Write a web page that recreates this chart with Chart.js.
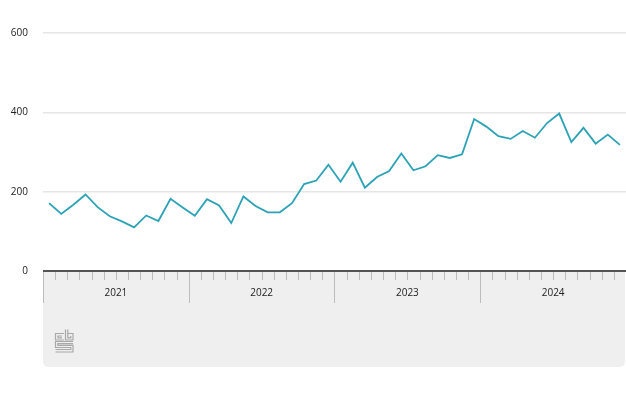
<!DOCTYPE html>
<html>
<head>
<meta charset="utf-8">
<script src="https://cdn.jsdelivr.net/npm/chart.js@4.4.1/dist/chart.umd.min.js"></script>
<style>
  html, body { margin: 0; padding: 0; background: #fff; }
  #wrap { width: 626px; height: 394px; }
</style>
</head>
<body>
<div id="wrap"><canvas id="lineChart" width="626" height="394"></canvas></div>
<script>
// Data
const years = ['2021', '2022', '2023', '2024'];
const months = ['jan', 'feb', 'mrt', 'apr', 'mei', 'jun', 'jul', 'aug', 'sep', 'okt', 'nov', 'dec'];
const values = [
    171, 144, 167, 193, 161, 138, 125, 110, 140, 126, 182, 160,
    139, 181, 165, 121, 188, 164, 148, 148, 171, 219, 228, 268,
    225, 273, 210, 237, 252, 296, 254, 264, 292, 285, 294, 383,
    364, 340, 333, 353, 336, 373, 397, 325, 361, 321, 344, 318
];
const yTicks = [0, 200, 400, 600];

const labels = years.flatMap(y => months.map(m => m + ' ' + y));
const FONT = '"Open Sans", "DejaVu Sans", sans-serif';

// grey year band under the chart, ticks, year labels and logo
const yearBand = {
    id: 'yearBand',
    afterDraw(chart) {
        const ctx = chart.ctx;
        const x = chart.scales.x;
        const area = chart.chartArea;
        const step = x.getPixelForValue(1) - x.getPixelForValue(0);
        const left = area.left, right = area.right - 1;
        const top = area.bottom, bottom = 367, r = 6;

        ctx.save();
        ctx.fillStyle = '#efefef';
        ctx.beginPath();
        ctx.moveTo(left, top);
        ctx.lineTo(right, top);
        ctx.lineTo(right, bottom - r);
        ctx.quadraticCurveTo(right, bottom, right - r, bottom);
        ctx.lineTo(left + r, bottom);
        ctx.quadraticCurveTo(left, bottom, left, bottom - r);
        ctx.closePath();
        ctx.fill();

        // month ticks
        ctx.strokeStyle = '#bcbcbc';
        ctx.lineWidth = 1;
        for (let i = 0; i < labels.length; i++) {
            const px = Math.round(x.getPixelForValue(i) - step / 2) + 0.5;
            const long = i % 12 === 0;
            ctx.beginPath();
            ctx.moveTo(px, top);
            ctx.lineTo(px, top + (long ? 32 : 9));
            ctx.stroke();
        }

        // axis line
        ctx.strokeStyle = '#555';
        ctx.lineWidth = 2;
        ctx.beginPath();
        ctx.moveTo(left, top);
        ctx.lineTo(area.right, top);
        ctx.stroke();

        // year labels
        ctx.fillStyle = '#222';
        ctx.font = '10px ' + FONT;
        ctx.textAlign = 'center';
        ctx.textBaseline = 'middle';
        years.forEach((y, k) => {
            const a = x.getPixelForValue(k * 12) - step / 2;
            const b = x.getPixelForValue(k * 12 + 11) + step / 2;
            ctx.fillText(y, (a + b) / 2, 293);
        });

        // cbs logo
        ctx.strokeStyle = '#a8a8a8';
        ctx.lineWidth = 1.2;
        ctx.beginPath();
        // c
        ctx.moveTo(64, 333.5); ctx.lineTo(55.5, 333.5); ctx.lineTo(55.5, 340); ctx.lineTo(64, 340);
        ctx.moveTo(62, 336); ctx.lineTo(58, 336); ctx.lineTo(58, 337.8); ctx.lineTo(62, 337.8);
        // b
        ctx.moveTo(65.5, 329.5); ctx.lineTo(65.5, 340); ctx.lineTo(73, 340); ctx.lineTo(73, 333.5); ctx.lineTo(68, 333.5);
        ctx.moveTo(67.8, 329.5); ctx.lineTo(67.8, 337.8); ctx.lineTo(70.8, 337.8); ctx.lineTo(70.8, 336);
        // s
        ctx.moveTo(73, 341.5); ctx.lineTo(55.5, 341.5); ctx.lineTo(55.5, 347.5); ctx.lineTo(70.8, 347.5); ctx.lineTo(70.8, 349.5); ctx.lineTo(55.5, 349.5);
        ctx.moveTo(73, 343.7); ctx.lineTo(57.8, 343.7); ctx.lineTo(57.8, 345.3); ctx.lineTo(73, 345.3); ctx.lineTo(73, 352); ctx.lineTo(55.5, 352);
        ctx.stroke();
        ctx.restore();
    }
};

const ctx1 = document.getElementById('lineChart').getContext('2d');
new Chart(ctx1, {
    type: 'line',
    data: {
        labels: labels,
        datasets: [{
            data: values,
            borderColor: '#2ba2b5',
            borderWidth: 1.8,
            pointRadius: 0,
            tension: 0,
            fill: false
        }]
    },
    options: {
        responsive: false,
        animation: false,
        layout: { padding: { top: 33, bottom: 123, right: 0, left: 0 } },
        plugins: { legend: { display: false }, tooltip: { enabled: false } },
        scales: {
            x: { display: false, offset: true },
            y: {
                min: 0,
                max: 600,
                afterBuildTicks: s => { s.ticks = yTicks.map(v => ({ value: v })); },
                afterFit: s => { s.width = 43; },
                border: { display: false },
                grid: { color: '#e6e6e6', lineWidth: 1.5, drawTicks: false },
                ticks: { padding: 15, color: '#222', font: { size: 10, family: FONT } }
            }
        }
    },
    plugins: [yearBand]
});
</script>
</body>
</html>
